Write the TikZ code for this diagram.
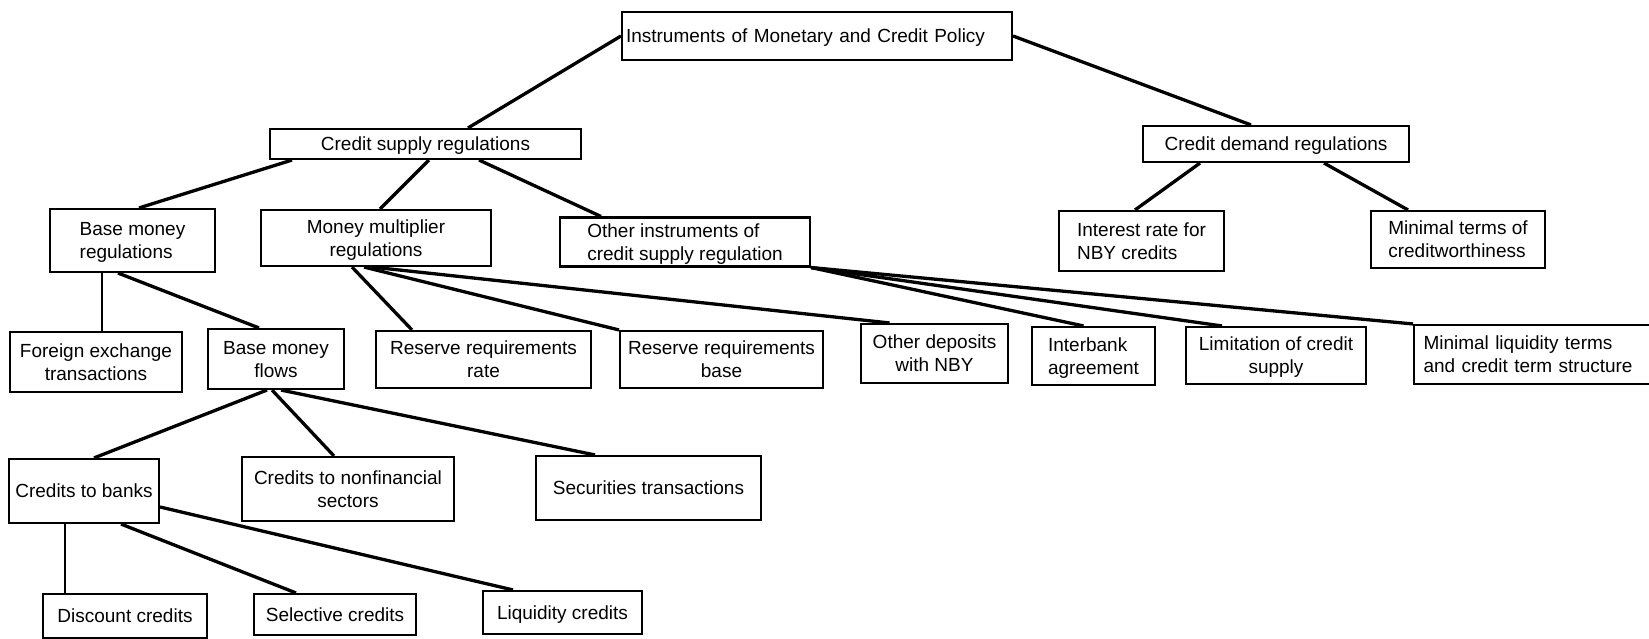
\documentclass[tikz,border=0pt]{standalone}
\usepackage{fontspec}
\setmainfont{Liberation Sans}
\usetikzlibrary{calc}
\tikzset{
  bx/.style={draw, line width=2.1pt, inner sep=0pt, text depth=0pt, font=\fontsize{19}{23}\selectfont, align=center},
  lbx/.style={bx, align=left},
  ln/.style={line width=3.3pt},
  vln/.style={line width=2.4pt},
}
\begin{document}
\begin{tikzpicture}[x=1pt,y=-1pt]
\useasboundingbox (0,0) rectangle (1649,639);
\clip (0,0) rectangle (1649,639);
% nodes
\node[lbx, inner xsep=4pt, text width=382pt, minimum height=48pt] (top) at (817,36) {Instruments of Monetary and Credit Policy};
\node[bx, minimum width=311pt, minimum height=30pt] (cs) at (425.5,144) {Credit supply regulations};
\node[bx, minimum width=266pt, minimum height=36pt] (cd) at (1276,144) {Credit demand regulations};
\node[lbx, minimum width=165pt, minimum height=63pt] (bmr) at (132.5,240.5) {Base money\\regulations};
\node[bx, minimum width=230pt, minimum height=56pt] (mm) at (376,238) {Money multiplier\\regulations};
\node[lbx, minimum width=250pt, minimum height=49pt] (oi) at (685,242) {Other instruments of\\credit supply regulation};
\node[lbx, minimum width=165pt, minimum height=60pt] (ir) at (1141.5,241) {Interest rate for\\NBY credits};
\node[lbx, minimum width=174pt, minimum height=57pt] (mt) at (1458,239.5) {Minimal terms of\\creditworthiness};
\node[bx, minimum width=172pt, minimum height=60pt] (fx) at (96,362) {Foreign exchange\\transactions};
\node[bx, minimum width=136pt, minimum height=60pt] (bmf) at (276,359) {Base money\\flows};
\node[bx, minimum width=215pt, minimum height=57pt] (rrr) at (483.5,359.5) {Reserve requirements\\rate};
\node[bx, minimum width=203pt, minimum height=57pt] (rrb) at (721.5,359.5) {Reserve requirements\\base};
\node[bx, minimum width=147pt, minimum height=59pt] (od) at (934.5,353.5) {Other deposits\\with NBY};
\node[lbx, minimum width=123pt, minimum height=58pt] (ib) at (1093.5,356) {Interbank\\agreement};
\node[bx, minimum width=180pt, minimum height=57pt] (lc) at (1276,355.5) {Limitation of credit\\supply};
\node[lbx, text depth={}, inner xsep=9.5pt, text width=222pt, minimum height=59pt] (ml) at (1534.5,354.5) {Minimal liquidity terms\\and credit term structure};
\node[bx, minimum width=150pt, minimum height=64pt] (cb) at (84,491) {Credits to banks};
\node[bx, minimum width=212pt, minimum height=64pt] (cn) at (348,489) {Credits to nonfinancial\\sectors};
\node[bx, minimum width=225pt, minimum height=64pt] (st) at (648.5,488) {Securities transactions};
\node[bx, minimum width=164pt, minimum height=44pt] (dc) at (125,616) {Discount credits};
\node[bx, minimum width=162pt, minimum height=41pt] (sc) at (335,614.5) {Selective credits};
\node[bx, minimum width=159pt, minimum height=43pt] (lq) at (562.5,612.5) {Liquidity credits};
% connectors
\draw[ln] (top.west) -- ([xshift=42.5pt]cs.north);
\draw[ln] (top.east) -- ([xshift=-25pt]cd.north);
\draw[ln] ([xshift=-133.5pt]cs.south) -- ([xshift=6.5pt]bmr.north);
\draw[ln] ([xshift=3.5pt]cs.south) -- ([xshift=4pt]mm.north);
\draw[ln] ([xshift=53.5pt]cs.south) -- ([xshift=-84pt]oi.north);
\draw[ln] ([xshift=-76pt]cd.south) -- ([xshift=-6.5pt]ir.north);
\draw[ln] ([xshift=48pt]cd.south) -- ([xshift=-50pt]mt.north);
\draw[vln] ([xshift=-30.5pt]bmr.south) -- ([xshift=6pt]fx.north);
\draw[ln] ([xshift=-14.5pt]bmr.south) -- ([xshift=-17pt]bmf.north);
\draw[ln] ([xshift=-24pt]mm.south) -- ([xshift=-71.5pt]rrr.north);
\draw[ln] ([xshift=-12pt]mm.south) -- (rrb.north west);
\draw[ln] ([xshift=-4pt]mm.south) -- ([xshift=-45pt]od.north);
\draw[ln] (oi.south east) -- ([xshift=-10pt]ib.north);
\draw[ln] (oi.south east) -- ([xshift=-54pt]lc.north);
\draw[ln] (oi.south east) -- (ml.north west);
\draw[ln] ([xshift=-9pt]bmf.south) -- ([xshift=10pt]cb.north);
\draw[ln] ([xshift=-4pt]bmf.south) -- ([xshift=-14pt]cn.north);
\draw[ln] ([xshift=5pt]bmf.south) -- ([xshift=-53.5pt]st.north);
\draw[vln] ([xshift=-19pt]cb.south) -- ([xshift=-60pt]dc.north);
\draw[ln] ([xshift=37pt]cb.south) -- ([xshift=-39pt]sc.north);
\draw[ln] ([yshift=-16pt]cb.east) -- ([xshift=-49.5pt]lq.north);
\end{tikzpicture}
\end{document}
